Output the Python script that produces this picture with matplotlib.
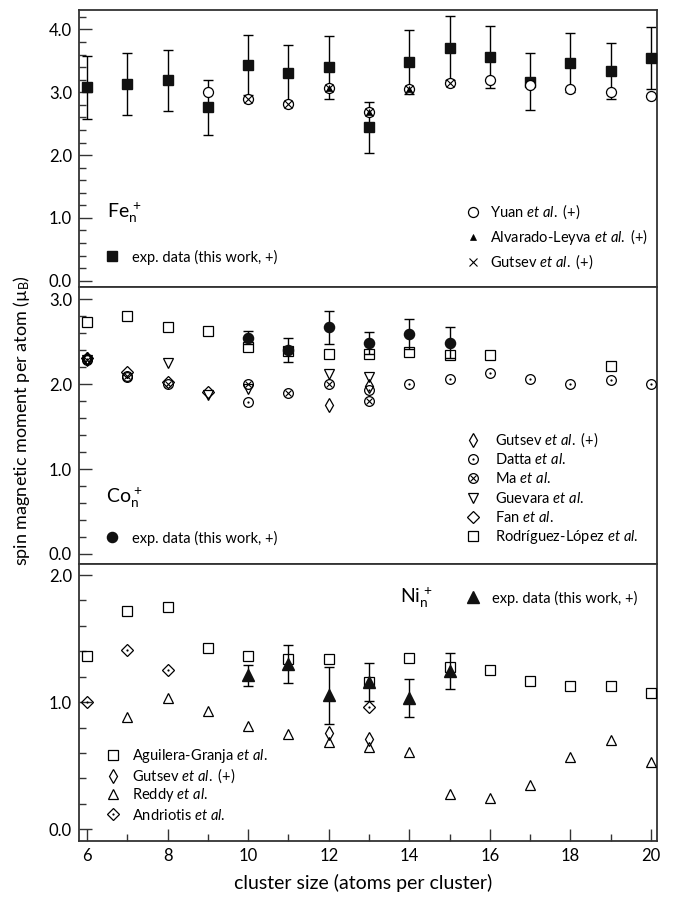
import matplotlib
matplotlib.use("Agg")
import matplotlib.pyplot as plt
from matplotlib.legend import Legend
from matplotlib.legend_handler import HandlerTuple
from matplotlib.ticker import FormatStrFormatter, MultipleLocator

# ---- Fe_n^+ ----
fe_n = [6, 7, 8, 9, 10, 11, 12, 13, 14, 15, 16, 17, 18, 19, 20]
fe_exp = [3.08, 3.13, 3.19, 2.76, 3.43, 3.30, 3.40, 2.44, 3.48, 3.70, 3.56, 3.17, 3.47, 3.34, 3.55]
fe_err = [0.50, 0.49, 0.48, 0.44, 0.48, 0.45, 0.50, 0.40, 0.51, 0.51, 0.49, 0.45, 0.47, 0.45, 0.49]
yuan_n = [9, 10, 11, 12, 13, 14, 15, 16, 17, 18, 19, 20]
yuan = [3.01, 2.89, 2.82, 3.07, 2.69, 3.06, 3.14, 3.19, 3.11, 3.06, 3.01, 2.94]
alvarado_n = [12, 13, 14]
alvarado = [3.07, 2.69, 3.06]
gutsev_fe_n = [10, 11, 12, 13, 14, 15]
gutsev_fe = [2.89, 2.82, 3.07, 2.69, 3.06, 3.14]

# ---- Co_n^+ ----
co_n = [10, 11, 12, 13, 14, 15]
co_exp = [2.55, 2.40, 2.67, 2.49, 2.59, 2.49]
co_err = [0.08, 0.14, 0.19, 0.13, 0.18, 0.18]
rodriguez_n = [6, 7, 8, 9, 10, 11, 12, 13, 14, 15, 16, 19]
rodriguez = [2.73, 2.81, 2.68, 2.63, 2.44, 2.39, 2.36, 2.36, 2.38, 2.35, 2.34, 2.22]
datta_n = [6, 7, 10, 13, 14, 15, 16, 17, 18, 19, 20]
datta = [2.30, 2.09, 1.79, 1.93, 2.00, 2.06, 2.13, 2.06, 2.00, 2.05, 2.00]
ma_n = [6, 7, 8, 10, 11, 12, 13]
ma = [2.29, 2.10, 2.00, 2.00, 1.90, 2.00, 1.80]
guevara_n = [6, 8, 9, 10, 12, 13]
guevara = [2.29, 2.25, 1.87, 1.95, 2.12, 2.09]
fan_n = [6, 7, 8, 9]
fan = [2.31, 2.15, 2.03, 1.91]
gutsev_co_n = [6, 12, 13]
gutsev_co = [2.30, 1.76, 1.98]

# ---- Ni_n^+ ----
ni_n = [10, 11, 12, 13, 14, 15]
ni_exp = [1.21, 1.30, 1.055, 1.16, 1.03, 1.245]
ni_err = [0.08, 0.15, 0.225, 0.15, 0.15, 0.145]
aguilera_n = [6, 7, 8, 9, 10, 11, 12, 13, 14, 15, 16, 17, 18, 19, 20]
aguilera = [1.36, 1.72, 1.745, 1.43, 1.36, 1.34, 1.34, 1.155, 1.35, 1.28, 1.25, 1.17, 1.13, 1.13, 1.07]
reddy_n = [7, 8, 9, 10, 11, 12, 13, 14, 15, 16, 17, 18, 19, 20]
reddy = [0.88, 1.03, 0.93, 0.81, 0.75, 0.69, 0.645, 0.605, 0.275, 0.25, 0.35, 0.57, 0.70, 0.53]
andriotis_n = [6, 7, 8, 13]
andriotis = [1.00, 1.41, 1.25, 0.96]
gutsev_ni_n = [12, 13]
gutsev_ni = [0.755, 0.71]

W, H, DPI = 675, 902, 100
FRAME = "#333333"
LEG_FS = 10.5

plt.rcParams["font.family"] = ["Lato", "DejaVu Sans"]
plt.rcParams["mathtext.fontset"] = "custom"
plt.rcParams["mathtext.rm"] = "Lato"
plt.rcParams["mathtext.it"] = "Lato:italic"
plt.rcParams["mathtext.bf"] = "Lato:bold"


def _fx(px):
    return px / W


def _fy(py):
    return 1 - py / H


def _pts(ax, x, y, marker, ms, fill="none", mew=0.9, z=3):
    return ax.plot(x, y, ls="none", marker=marker, ms=ms, mfc=fill,
                   mec="black", mew=mew, zorder=z)[0]


def _circ_x(ax, x, y):
    a = _pts(ax, x, y, "o", 7)
    b = _pts(ax, x, y, "x", 4.2, mew=0.8)
    return (a, b)


def _circ_dot(ax, x, y, marker="o", ms=7):
    a = _pts(ax, x, y, marker, ms)
    b = ax.plot(x, y, ls="none", marker="o", ms=1.6, mfc="black", mec="black",
                mew=0, zorder=3)[0]
    return (a, b)


def _exp(ax, x, y, err, marker, ms):
    ax.errorbar(x, y, yerr=err, fmt="none", ecolor="black", elinewidth=1.0,
                capsize=3.8, capthick=1.0, zorder=2)
    return ax.plot(x, y, ls="none", marker=marker, ms=ms, mfc="#111111",
                   mec="#111111", zorder=4)[0]


def _legend(fig, ax, handles, labels, x_px, y_px, pad, pitch=0):
    # one single-entry legend per row, so every row sits on an even pitch
    hl = 1.0
    left = x_px - hl * LEG_FS * DPI / 72 / 2
    for i, (h, lab) in enumerate(zip(handles, labels)):
        leg = Legend(ax, [h], [lab], loc="center left",
                     bbox_to_anchor=(_fx(left), _fy(y_px + i * pitch)),
                     bbox_transform=fig.transFigure, frameon=False,
                     borderpad=0, borderaxespad=0, handlelength=hl,
                     handletextpad=pad, fontsize=LEG_FS,
                     handler_map={tuple: HandlerTuple(ndivide=1, pad=0)})
        ax.add_artist(leg)


def _style(ax, ymin, ymax, ymajor):
    ax.set_xlim(5.8, 20.15)
    ax.set_ylim(ymin, ymax)
    for sp in ax.spines.values():
        sp.set_color(FRAME)
        sp.set_linewidth(1.3)
    ax.yaxis.set_major_locator(MultipleLocator(ymajor))
    ax.yaxis.set_minor_locator(MultipleLocator(0.2))
    ax.yaxis.set_major_formatter(FormatStrFormatter("%.1f"))
    ax.xaxis.set_major_locator(MultipleLocator(2))
    ax.xaxis.set_minor_locator(MultipleLocator(1))
    ax.tick_params(which="both", direction="in", top=False, right=False,
                   color=FRAME, width=1.0, labelsize=12, pad=5)
    ax.tick_params(which="major", length=9)
    ax.tick_params(which="minor", length=5)


def main():
    fig = plt.figure(figsize=(W / DPI, H / DPI), dpi=DPI)
    left, right = 79, 657
    edges = [10, 286.7, 564, 841]
    axes = []
    for i in range(3):
        ax = fig.add_axes([_fx(left), _fy(edges[i + 1]), _fx(right - left),
                           (edges[i + 1] - edges[i]) / H])
        axes.append(ax)
    ax_fe, ax_co, ax_ni = axes

    _style(ax_fe, -0.095, 4.31, 1.0)
    _style(ax_co, -0.118, 3.15, 1.0)
    _style(ax_ni, -0.092, 2.087, 1.0)
    for ax in (ax_fe, ax_co):
        ax.tick_params(axis="x", which="both", bottom=False, labelbottom=False)

    # Fe
    h_fe = _exp(ax_fe, fe_n, fe_exp, fe_err, "s", 7.3)
    h_yuan = _pts(ax_fe, yuan_n, yuan, "o", 7.2, fill="white", z=5)
    h_alv = _pts(ax_fe, alvarado_n, alvarado, "^", 4.6, fill="black", mew=0.5, z=6)
    h_gfe = _pts(ax_fe, gutsev_fe_n, gutsev_fe, "x", 6.2, mew=0.8, z=7)
    _legend(fig, ax_fe, [h_fe], ["exp. data (this work, +)"], 112, 257, 0.85)
    _legend(fig, ax_fe, [h_yuan, h_alv, h_gfe],
            [r"Yuan $\mathit{et\ al.}$ (+)",
             r"Alvarado-Leyva $\mathit{et\ al.}$ (+)",
             r"Gutsev $\mathit{et\ al.}$ (+)"],
            473, 212, 0.66, pitch=25)
    fig.text(_fx(107), _fy(213), r"Fe$_\mathregular{n}^{\ \mathregular{+}}$",
             fontsize=14, va="center", ha="left")

    # Co
    h_rod = _pts(ax_co, rodriguez_n, rodriguez, "s", 6.6)
    h_datta = _circ_dot(ax_co, datta_n, datta)
    h_ma = _circ_x(ax_co, ma_n, ma)
    h_gue = _pts(ax_co, guevara_n, guevara, "v", 7.2)
    h_fan = _pts(ax_co, fan_n, fan, "D", 6.2)
    h_gco = _pts(ax_co, gutsev_co_n, gutsev_co, "d", 7.5)
    h_co = _exp(ax_co, co_n, co_exp, co_err, "o", 7.3)
    _legend(fig, ax_co, [h_co], ["exp. data (this work, +)"], 112, 538, 0.85)
    _legend(fig, ax_co, [h_gco, h_datta, h_ma, h_gue, h_fan, h_rod],
            [r"Gutsev $\mathit{et\ al.}$ (+)", r"Datta $\mathit{et\ al.}$",
             r"Ma $\mathit{et\ al.}$", r"Guevara $\mathit{et\ al.}$",
             r"Fan $\mathit{et\ al.}$", r"Rodríguez-López $\mathit{et\ al.}$"],
            473, 440, 1.0, pitch=19.5)
    fig.text(_fx(106), _fy(498), r"Co$_\mathregular{n}^{\ \mathregular{+}}$",
             fontsize=14, va="center", ha="left")

    # Ni
    h_agu = _pts(ax_ni, aguilera_n, aguilera, "s", 6.6)
    h_red = _pts(ax_ni, reddy_n, reddy, "^", 7.4)
    h_and = _circ_dot(ax_ni, andriotis_n, andriotis, marker="D", ms=6.4)
    h_gni = _pts(ax_ni, gutsev_ni_n, gutsev_ni, "d", 7.5)
    h_ni = _exp(ax_ni, ni_n, ni_exp, ni_err, "^", 8.0)
    _legend(fig, ax_ni, [h_agu, h_gni, h_red, h_and],
            [r"Aguilera-Granja $\mathit{et\ al.}$", r"Gutsev $\mathit{et\ al.}$ (+)",
             r"Reddy $\mathit{et\ al.}$", r"Andriotis $\mathit{et\ al.}$"],
            113, 756, 0.8, pitch=19.7)
    _legend(fig, ax_ni, [h_ni], ["exp. data (this work, +)"], 473, 598, 0.8)
    fig.text(_fx(400), _fy(598), r"Ni$_\mathregular{n}^{\ \mathregular{+}}$",
             fontsize=14, va="center", ha="left")

    fig.text(_fx(363), _fy(883), "cluster size (atoms per cluster)",
             fontsize=14, ha="center", va="center")
    fig.text(_fx(22), _fy(421), "spin magnetic moment per atom (µ$_\\mathregular{B}$)",
             fontsize=13, ha="center", va="center", rotation=90)

    fig.savefig("out.png", dpi=DPI)
    plt.close(fig)


if __name__ == "__main__":
    main()
